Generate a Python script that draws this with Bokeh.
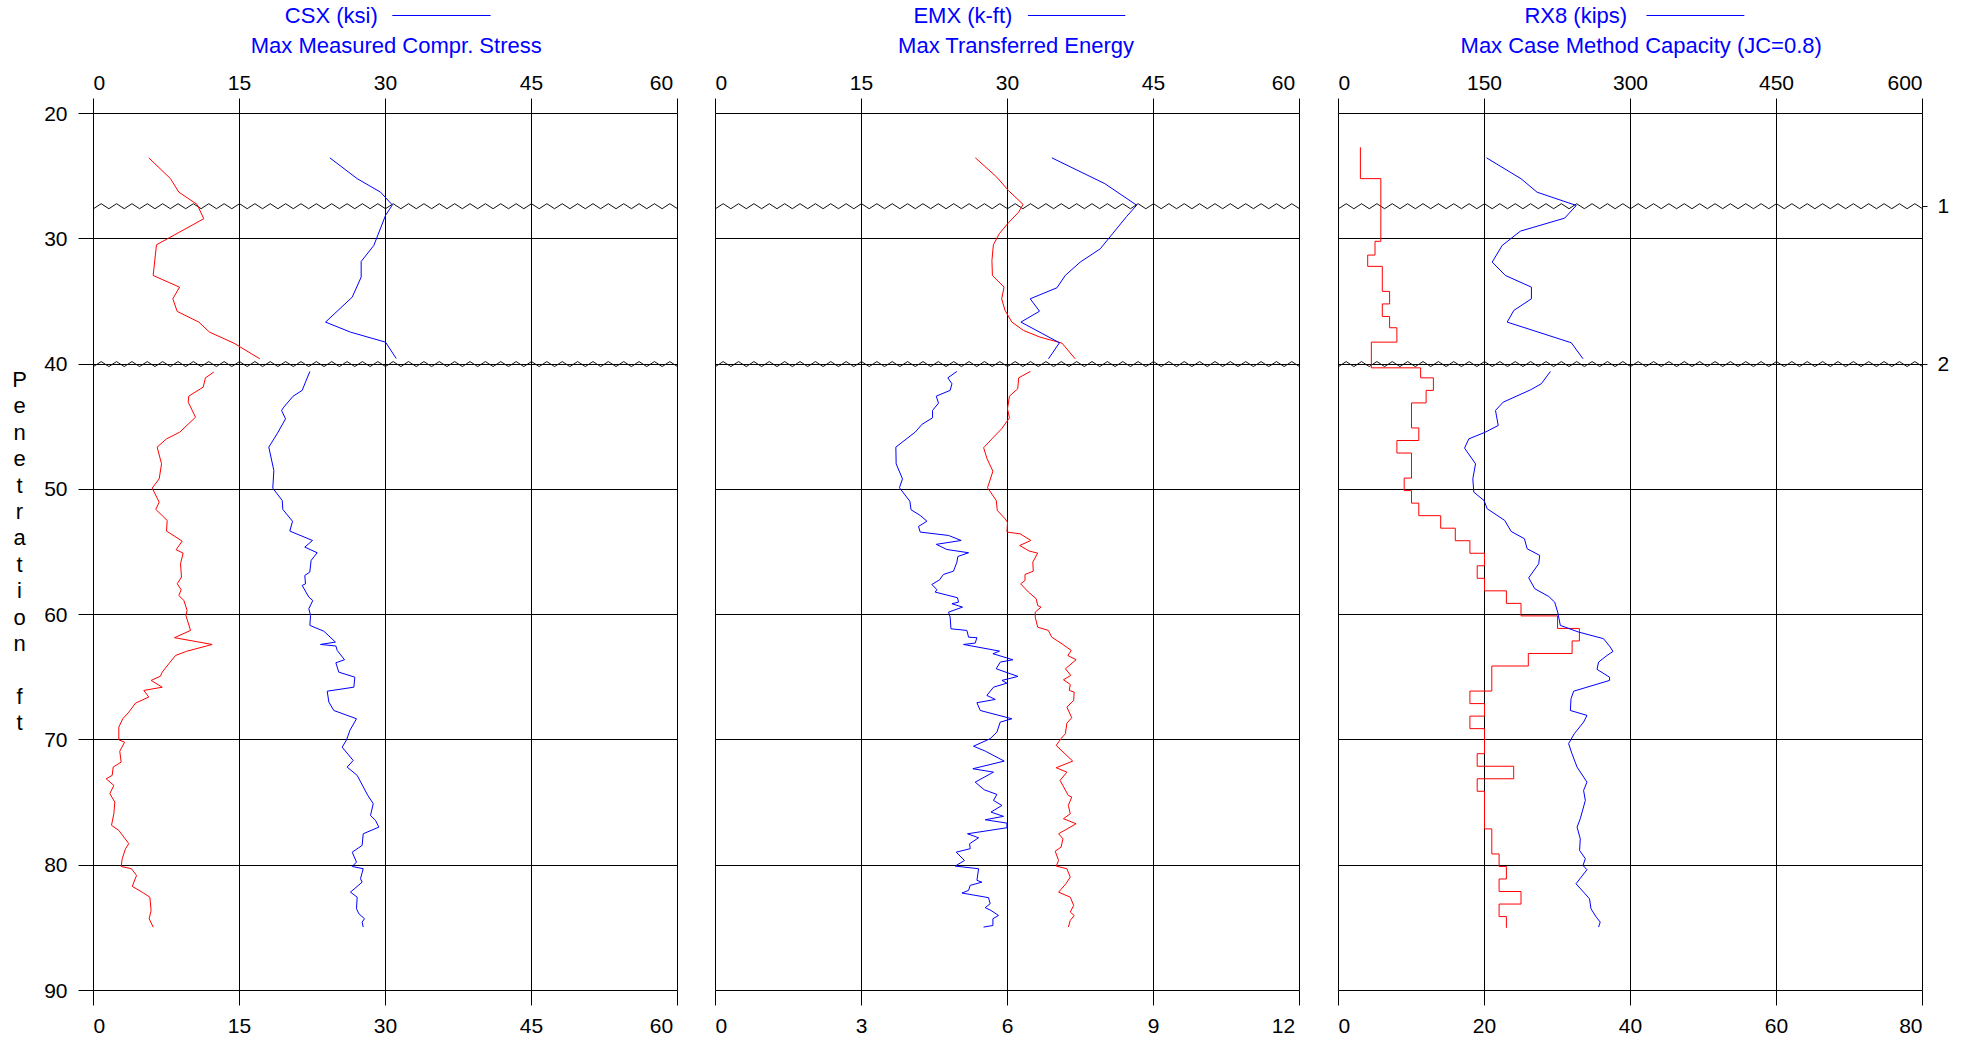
import numpy as np
from bokeh.plotting import figure
from bokeh.layouts import row, column
from bokeh.models import Range1d, LinearAxis, FixedTicker, Grid
from bokeh.core.properties import value
from bokeh.embed import file_html
from bokeh.resources import INLINE

# ---------------------------------------------------------------- data
depth_ticks = [20, 30, 40, 50, 60, 70, 80, 90]
section_depths = [27.4, 40.0]
section_labels = ["1", "2"]
depth_title = "Penetration ft"

# Panel 1: CSX (blue, top scale 0-60 ksi) and CSB (red, bottom scale 0-60 ksi)
csx_depth_a = [23.54, 25.2, 26.28, 27.3, 28.14, 30.53, 31.81, 33.06, 34.66, 36.65, 37.45, 38.25, 39.55]
csx_a = [24.28, 27.09, 29.49, 30.7, 30.0, 28.8, 27.5, 27.5, 26.58, 23.84, 26.4, 30.0, 31.1]
csx_depth_b = [40.59, 41.44, 42.1, 42.56, 43.44, 43.7, 44.37, 45.56, 46.63, 48.49, 49.9, 50.89, 51.6,
               52.55, 53.33, 54.08, 54.61, 55.06, 55.67, 56.61, 56.87, 57.54, 57.67, 58.6, 58.87, 59.53,
               60.06, 60.86, 61.32, 62.19, 62.38, 62.5, 62.86, 63.6, 63.84, 64.59, 64.99, 65.79, 66.11,
               66.98, 67.65, 68.31, 69.24, 69.99, 70.58, 71.64, 72.17, 72.83, 74.43, 75.09, 76.03, 76.42,
               76.96, 77.49, 78.42, 78.96, 79.75, 80.1, 80.28, 81.08, 81.35, 82.15, 82.55, 83.47, 83.87,
               84.27, 84.54, 84.94]
csx_b = [22.23, 21.78, 21.44, 20.51, 19.55, 19.32, 19.73, 18.87, 18.01, 18.53, 18.42, 19.39, 19.45,
         20.45, 20.17, 22.5, 21.71, 22.98, 22.36, 22.22, 21.71, 21.78, 21.44, 22.12, 22.53, 22.12,
         22.3, 22.23, 23.66, 24.86, 23.32, 24.9, 25.04, 25.79, 24.9, 25.2, 26.85, 26.75, 24.01,
         24.18, 24.69, 27.02, 26.34, 26.0, 25.55, 26.68, 26.06, 27.09, 28.18, 28.74, 28.46, 28.97,
         29.32, 27.71, 27.6, 26.58, 27.02, 26.58, 27.71, 27.43, 27.6, 26.4, 27.09, 27.02, 27.26,
         27.84, 27.6, 27.71]

csb_depth_a = [23.54, 25.2, 26.28, 27.26, 28.4, 30.48, 32.93, 33.86, 34.79, 35.8, 36.65, 37.45, 38.33, 39.58]
csb_a = [5.68, 7.91, 8.77, 10.65, 11.33, 6.47, 6.13, 8.84, 8.15, 8.6, 10.82, 11.92, 14.42, 17.09]
csb_depth_b = [40.64, 41.1, 41.84, 42.56, 43.04, 44.24, 45.43, 45.97, 46.63, 47.96, 49.16, 49.9, 51.02,
               51.6, 52.48, 53.33, 54.13, 54.82, 55.09, 55.94, 57.0, 57.53, 58.01, 58.47, 58.87, 59.66,
               60.06, 61.26, 61.84, 62.38, 62.93, 63.26, 63.92, 64.59, 64.91, 65.25, 65.79, 66.05, 66.58,
               67.06, 67.78, 68.31, 68.98, 69.99, 70.18, 70.9, 71.77, 72.17, 72.83, 73.1, 73.63, 74.29,
               74.96, 75.89, 76.82, 77.22, 78.28, 78.68, 79.48, 80.1, 80.28, 80.82, 81.69, 82.15, 82.55,
               83.61, 84.27, 84.94]
csb_b = [12.36, 11.5, 11.27, 9.79, 9.73, 10.48, 8.87, 7.5, 6.54, 6.99, 6.75, 6.03, 6.75,
         6.4, 7.57, 7.5, 9.11, 8.49, 9.21, 8.94, 9.04, 8.6, 9.01, 8.77, 9.28, 9.62,
         9.49, 9.97, 8.32, 12.19, 9.54, 8.42, 7.74, 7.06, 6.88, 5.92, 7.06, 5.17, 5.68,
         4.32, 3.63, 3.01, 2.6, 2.6, 3.19, 2.7, 2.84, 2.02, 1.92, 1.3, 2.09, 1.68,
         2.19, 2.09, 1.85, 2.6, 3.63, 3.29, 2.95, 2.84, 3.9, 4.42, 3.98, 5.0, 5.79,
         5.92, 5.72, 6.13]

# Panel 2: EMX (blue, top scale 0-60 k-ft) and STK (red, bottom scale 0-12 ft)
emx_depth_a = [23.54, 25.6, 27.32, 28.22, 30.8, 31.86, 32.93, 33.91, 34.79, 35.78, 36.65, 38.3, 39.58]
emx_a = [34.56, 40.0, 43.27, 42.24, 39.53, 37.47, 35.93, 35.08, 32.33, 33.29, 31.38, 35.34, 34.21]
emx_depth_b = [40.59, 41.1, 41.57, 42.1, 42.56, 43.12, 43.7, 44.29, 44.82, 45.43, 46.63, 47.96, 49.16,
               49.87, 50.95, 51.63, 52.08, 52.54, 52.96, 53.41, 53.68, 54.08, 54.39, 54.8, 55.06, 55.36,
               55.81, 56.53, 56.79, 57.22, 57.59, 58.01, 58.2, 58.65, 59.0, 59.13, 59.4, 59.8, 60.2,
               61.13, 61.26, 61.8, 61.84, 62.27, 62.38, 62.91, 63.12, 63.6, 63.79, 64.32, 64.93, 65.25,
               65.47, 65.79, 66.45, 66.77, 67.03, 67.65, 68.31, 68.58, 69.38, 69.9, 70.5, 70.89, 71.69,
               72.3, 72.57, 73.37, 73.98, 74.35, 74.83, 75.23, 75.76, 76.1, 76.37, 76.64, 77.01, 77.49,
               77.81, 78.29, 78.68, 78.96, 79.62, 80.07, 80.28, 81.21, 81.35, 81.61, 82.01, 82.22, 82.59,
               83.07, 83.39, 83.61, 84.01, 84.27, 84.81, 84.94]
emx_b = [24.8, 23.87, 24.29, 24.11, 22.68, 22.91, 22.3, 22.3, 21.2, 20.52, 18.53, 18.56, 19.21,
         18.9, 19.97, 20.09, 21.03, 21.72, 20.86, 21.03, 23.94, 25.24, 22.68, 23.77, 26.0, 24.9,
         24.8, 24.45, 23.42, 23.02, 22.23, 22.75, 22.57, 24.86, 24.97, 24.29, 25.38, 23.94, 24.11,
         24.19, 25.83, 26.0, 26.86, 26.68, 25.48, 29.18, 28.5, 30.55, 29.25, 28.84, 31.07, 29.43,
         29.94, 28.56, 27.88, 28.74, 26.86, 27.2, 30.45, 29.25, 28.91, 28.22, 26.51, 27.71, 29.66,
         26.44, 28.56, 26.68, 27.61, 28.91, 28.56, 29.43, 28.3, 29.59, 27.71, 29.94, 29.94, 25.89,
         27.03, 26.1, 26.17, 24.73, 25.58, 24.63, 27.03, 26.86, 27.37, 26.17, 26.0, 25.32, 28.05,
         28.22, 27.71, 28.3, 29.08, 28.5, 28.5, 27.54]

stk_depth_a = [23.54, 25.08, 26.15, 27.26, 27.87, 28.72, 29.6, 30.48, 31.73, 32.93, 33.86, 34.79, 35.72,
               36.65, 37.32, 37.85, 38.33, 39.58]
stk_a = [5.34, 5.78, 6.02, 6.32, 6.23, 6.02, 5.83, 5.71, 5.68, 5.69, 5.93, 5.88, 5.95,
         6.09, 6.33, 6.67, 7.12, 7.39]
stk_depth_b = [40.59, 41.1, 41.97, 42.56, 43.57, 44.29, 45.16, 45.97, 46.68, 47.56, 48.55, 49.87, 50.89,
               51.68, 52.35, 52.62, 53.41, 53.55, 54.08, 54.48, 54.93, 55.09, 55.81, 56.53, 56.79, 57.27,
               57.54, 58.2, 58.73, 59.27, 59.4, 59.8, 60.2, 61.0, 61.26, 61.8, 62.33, 62.86, 63.26,
               63.6, 64.32, 64.85, 65.2, 65.57, 66.05, 66.18, 66.85, 67.38, 68.23, 68.66, 69.5, 69.9,
               70.44, 71.69, 72.22, 72.57, 73.23, 74.43, 74.56, 75.23, 75.89, 76.29, 76.69, 77.49, 77.89,
               78.56, 78.88, 79.62, 80.07, 80.28, 80.95, 81.48, 82.15, 82.55, 83.21, 83.74, 84.01, 84.41,
               84.94]
stk_b = [6.47, 6.23, 6.21, 6.04, 6.0, 6.04, 5.88, 5.68, 5.51, 5.58, 5.7, 5.59, 5.77,
         5.79, 5.95, 6.0, 5.99, 6.26, 6.48, 6.25, 6.45, 6.62, 6.52, 6.53, 6.36, 6.36,
         6.27, 6.43, 6.59, 6.62, 6.69, 6.57, 6.57, 6.62, 6.84, 6.91, 7.12, 7.31, 7.24,
         7.41, 7.19, 7.3, 7.15, 7.29, 7.27, 7.37, 7.36, 7.22, 7.32, 7.22, 7.19, 7.1,
         7.0, 7.34, 7.0, 7.22, 7.08, 7.25, 7.32, 7.25, 7.29, 7.15, 7.41, 7.05, 7.14,
         7.1, 6.98, 7.05, 7.0, 7.22, 7.29, 7.2, 7.05, 7.29, 7.36, 7.29, 7.37, 7.29,
         7.25]

# Panel 3: RX8 (blue, top scale 0-600 kips) and BLC (red, bottom scale 0-80 blows/ft)
rx8_depth_a = [23.54, 25.21, 26.28, 27.34, 28.35, 29.39, 30.53, 31.86, 32.93, 33.86, 34.79, 35.72, 36.65,
               38.3, 39.58]
rx8_a = [152.1, 187.6, 204.0, 244.3, 232.4, 186.9, 168.2, 157.9, 171.5, 198.2, 198.2, 180.1, 173.3,
         239.2, 251.2]
rx8_depth_b = [40.59, 41.57, 42.06, 43.04, 43.7, 44.9, 45.43, 45.97, 46.71, 47.96, 49.16, 50.22, 50.89,
               51.55, 52.48, 53.36, 53.94, 54.74, 55.27, 55.94, 57.06, 57.93, 58.55, 59.0, 59.8, 60.86,
               61.39, 61.92, 62.59, 62.94, 63.26, 63.79, 64.37, 64.99, 65.25, 66.11, 66.71, 67.65, 68.04,
               68.58, 69.5, 70.3, 71.1, 72.17, 73.37, 74.03, 74.83, 76.29, 76.96, 77.89, 78.82, 79.48,
               80.02, 80.36, 81.48, 82.15, 82.68, 83.47, 84.14, 84.54, 84.94]
rx8_b = [217.7, 208.4, 197.2, 169.2, 161.3, 164.1, 151.0, 133.9, 129.5, 140.8, 138.0, 139.0, 149.5,
         152.8, 170.8, 177.4, 191.0, 193.8, 206.7, 205.7, 195.4, 201.6, 216.0, 222.1, 225.2, 227.9,
         246.7, 272.3, 279.2, 282.0, 275.8, 267.2, 265.6, 278.5, 278.5, 241.6, 238.9, 238.2, 255.3,
         251.8, 242.3, 236.4, 239.9, 245.1, 255.3, 251.8, 253.6, 248.4, 245.1, 248.4, 247.7, 253.6,
         251.2, 255.3, 244.0, 251.8, 257.9, 259.4, 264.8, 268.9, 267.2]

blow_depth_edges = [22.7, 25.2, 30.2, 31.3, 32.2, 34.2, 35.2, 36.2, 37.1, 38.25, 40.3, 41.1, 42.1, 43.1,
                    45.1, 46.1, 47.1, 49.1, 50.1, 51.1, 52.1, 53.1, 54.1, 55.1, 56.1, 57.1, 58.1, 59.1,
                    60.1, 61.1, 62.1, 63.1, 64.1, 66.1, 67.1, 68.1, 69.1, 71.1, 72.1, 73.1, 74.1, 77.1,
                    79.1, 80.1, 81.1, 82.1, 83.1, 84.1, 85.0]
blow_counts = [3, 5.8, 5, 4, 6, 7, 6, 7, 8, 4.5, 11.25, 13, 12, 10, 11, 8, 10, 9, 10, 11, 14, 16, 18,
               20, 19, 20, 23, 25, 30, 33, 32, 26, 21, 18, 20, 18, 20, 19, 24, 19, 20, 21, 22, 23, 22,
               25, 22, 23]

# ---------------------------------------------------------------- styling
FONT = "Liberation Sans"
TICK_SIZE = "21px"
HEAD_SIZE = "22px"
RED = "#ff0000"
BLUE = "#0000ff"
INK = "#000000"
PAD = "\u00a0\u00a0"             # two no-break spaces take the width of one digit
FRAME_W = 584
HEAD_H = 60                      # strip holding the series headings
TOP_BORDER, FRAME_H, BOTTOM_BORDER = 53, 877, 55
MAIN_H = TOP_BORDER + FRAME_H + BOTTOM_BORDER
TITLE_W = 36                     # strip holding the stacked depth title


def style_axis(ax, standoff):
    ax.axis_line_color = None
    ax.major_tick_line_color = INK
    ax.major_tick_in = 0
    ax.major_tick_out = 15
    ax.minor_tick_line_color = None
    ax.major_label_text_font = FONT
    ax.major_label_text_font_size = TICK_SIZE
    ax.major_label_text_color = INK
    ax.major_label_standoff = standoff


def edge_aligned(ticks):
    # first label sits right of its tick, last label left of its tick
    first, last = ticks[0], ticks[-1]
    first_txt, last_txt = f"{first:g}", f"{last:g}"
    return {first: PAD * len(first_txt) + first_txt,
            last: last_txt + PAD * len(last_txt)}


def zigzag(depth, xmax):
    # small sawtooth marker spanning the panel width
    n = 77
    xs = np.linspace(0, xmax, n)
    ys = depth + 0.2 * np.where(np.arange(n) % 2 == 0, 1.0, -1.0)
    return xs, ys


def make_heading(left, right, top_max, name, subtitle, name_end, line_start, line_end, sub_center):
    h = figure(width=left + FRAME_W + right, height=HEAD_H,
               x_range=Range1d(0, top_max), y_range=Range1d(HEAD_H, 0),
               x_axis_type=None, y_axis_type=None,
               toolbar_location=None, output_backend="svg", title=None)
    h.min_border_left = left
    h.min_border_right = right
    h.min_border_top = 0
    h.min_border_bottom = 0
    h.outline_line_color = None
    h.background_fill_color = "white"
    h.border_fill_color = "white"
    k = top_max / 60.0
    h.text(x=[name_end * k], y=[14.5], text=[name], text_align="right",
           text_baseline="alphabetic", text_color=BLUE,
           text_font=value(FONT), text_font_size=value(HEAD_SIZE))
    h.line([line_start * k, line_end * k], [15, 15], line_color=BLUE, line_width=1)
    h.text(x=[sub_center * k], y=[45], text=[subtitle], text_align="center",
           text_baseline="alphabetic", text_color=BLUE,
           text_font=value(FONT), text_font_size=value(HEAD_SIZE))
    return h


def make_panel(top_max, top_ticks, bot_max, bot_ticks, left, right):
    p = figure(width=left + FRAME_W + right, height=MAIN_H,
               x_range=Range1d(0, top_max), y_range=Range1d(90, 20),
               x_axis_type=None, y_axis_type=None,
               toolbar_location=None, output_backend="svg", title=None)
    p.min_border_left = left
    p.min_border_right = right
    p.min_border_top = TOP_BORDER
    p.min_border_bottom = BOTTOM_BORDER
    p.outline_line_color = INK
    p.outline_line_width = 1
    p.background_fill_color = "white"
    p.border_fill_color = "white"
    p.extra_x_ranges = {"bottom": Range1d(0, bot_max)}

    top_axis = LinearAxis(ticker=FixedTicker(ticks=top_ticks),
                          major_label_overrides=edge_aligned(top_ticks))
    style_axis(top_axis, 5)
    p.add_layout(top_axis, "above")
    bottom_axis = LinearAxis(x_range_name="bottom", ticker=FixedTicker(ticks=bot_ticks),
                             major_label_overrides=edge_aligned(bot_ticks))
    style_axis(bottom_axis, 8)
    p.add_layout(bottom_axis, "below")

    p.add_layout(Grid(dimension=0, ticker=FixedTicker(ticks=top_ticks),
                      grid_line_color=INK, grid_line_width=1))
    p.add_layout(Grid(dimension=1, ticker=FixedTicker(ticks=depth_ticks),
                      grid_line_color=INK, grid_line_width=1))

    for d in section_depths:
        xs, ys = zigzag(d, top_max)
        p.line(xs, ys, line_color="#111111", line_width=1)
    return p


# ---------------------------------------------------------------- depth title strip
title_strip = figure(width=TITLE_W, height=MAIN_H, x_range=Range1d(0, TITLE_W),
                     y_range=Range1d(90, 20), x_axis_type=None, y_axis_type=None,
                     toolbar_location=None, output_backend="svg", title=None)
title_strip.min_border_left = 0
title_strip.min_border_right = 0
title_strip.min_border_top = TOP_BORDER
title_strip.min_border_bottom = BOTTOM_BORDER
title_strip.outline_line_color = None
letter_step = 2.107              # one text line, in feet of the depth scale
letters = [(ch, 41.23 + i * letter_step) for i, ch in enumerate(depth_title) if ch != " "]
title_strip.text(x=[19] * len(letters), y=[y for _, y in letters], text=[c for c, _ in letters],
                 text_align="center", text_baseline="middle", text_color=INK,
                 text_font=value(FONT), text_font_size=value(HEAD_SIZE))

# ---------------------------------------------------------------- panel 1
P1_LEFT = 93 - TITLE_W
h1 = make_heading(93, 19, 60, "CSX (ksi)", "Max Measured Compr. Stress", 29.2, 30.7, 40.8, 31.1)
p1 = make_panel(60, [0, 15, 30, 45, 60], 60, [0, 15, 30, 45, 60], P1_LEFT, 19)
left_axis = LinearAxis(ticker=FixedTicker(ticks=depth_ticks))
style_axis(left_axis, 11)
p1.add_layout(left_axis, "left")
p1.line(csb_a, csb_depth_a, line_color=RED, line_width=1, x_range_name="bottom")
p1.line(csb_b, csb_depth_b, line_color=RED, line_width=1, x_range_name="bottom")
p1.line(csx_a, csx_depth_a, line_color=BLUE, line_width=1)
p1.line(csx_b, csx_depth_b, line_color=BLUE, line_width=1)

# ---------------------------------------------------------------- panel 2
h2 = make_heading(19, 19, 60, "EMX (k-ft)", "Max Transferred Energy", 30.5, 32.1, 42.1, 30.9)
p2 = make_panel(60, [0, 15, 30, 45, 60], 12, [0, 3, 6, 9, 12], 19, 19)
p2.line(stk_a, stk_depth_a, line_color=RED, line_width=1, x_range_name="bottom")
p2.line(stk_b, stk_depth_b, line_color=RED, line_width=1, x_range_name="bottom")
p2.line(emx_a, emx_depth_a, line_color=BLUE, line_width=1)
p2.line(emx_b, emx_depth_b, line_color=BLUE, line_width=1)

# ---------------------------------------------------------------- panel 3
h3 = make_heading(20, 47, 600, "RX8 (kips)", "Max Case Method Capacity (JC=0.8)",
                  29.65, 31.64, 41.7, 31.1)
p3 = make_panel(600, [0, 150, 300, 450, 600], 80, [0, 20, 40, 60, 80], 20, 47)
marker_axis = LinearAxis(ticker=FixedTicker(ticks=section_depths),
                         major_label_overrides=dict(zip(section_depths, section_labels)))
style_axis(marker_axis, 10)
marker_axis.major_tick_out = 5
marker_axis.major_tick_line_color = "#111111"
p3.add_layout(marker_axis, "right")

# blow count staircase: vertical run over each interval, horizontal jump at its base
stair_x, stair_y = [], []
for i, c in enumerate(blow_counts):
    stair_x += [c, c]
    stair_y += [blow_depth_edges[i], blow_depth_edges[i + 1]]
p3.line(stair_x, stair_y, line_color=RED, line_width=1, x_range_name="bottom")
p3.line(rx8_a, rx8_depth_a, line_color=BLUE, line_width=1)
p3.line(rx8_b, rx8_depth_b, line_color=BLUE, line_width=1)

layout = column(row(h1, h2, h3), row(title_strip, p1, p2, p3))
open("out.html", "w").write(file_html(layout, INLINE))
